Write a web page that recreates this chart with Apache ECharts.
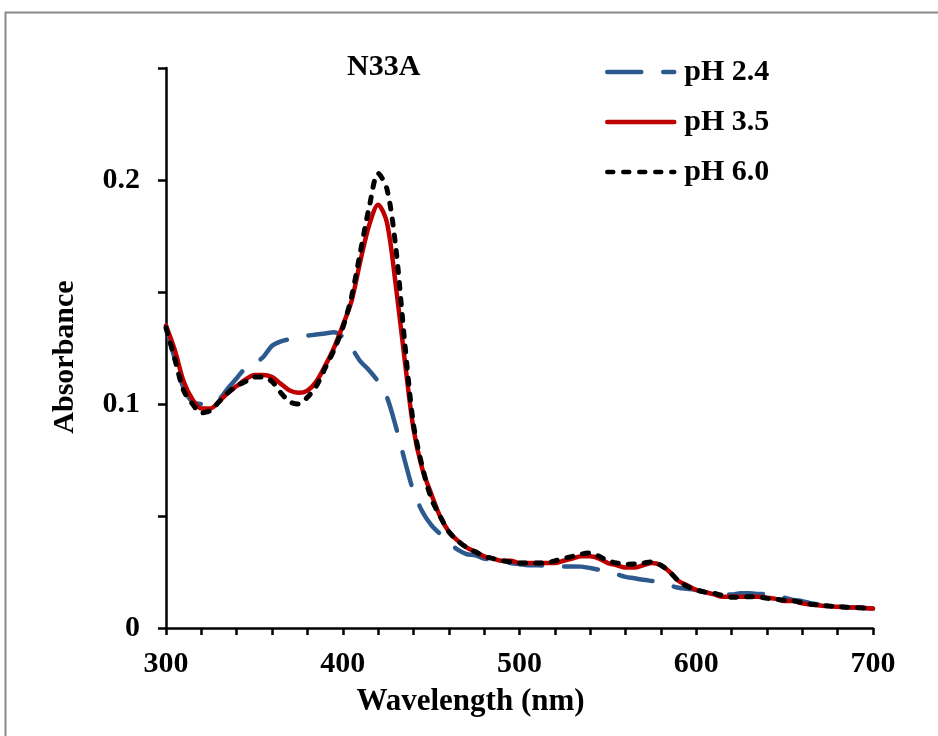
<!DOCTYPE html>
<html>
<head>
<meta charset="utf-8">
<script src="https://cdn.jsdelivr.net/npm/echarts@6/dist/echarts.min.js"></script>
<style>
  html, body { margin: 0; padding: 0; background: #fff; }
  #chart { width: 938px; height: 736px; }
</style>
</head>
<body>
<div id="chart"></div>
<script>
// Wavelength (nm), 5 nm steps
const wavelengths = [];
for (let w = 300; w <= 700; w += 5) wavelengths.push(w);

const seriesNames = ['pH 2.4', 'pH 3.5', 'pH 6.0'];

const absPH24 = [
  0.135, 0.120, 0.107, 0.101, 0.100, 0.100, 0.102, 0.107, 0.1115, 0.116,
  0.118, 0.121, 0.126, 0.128, 0.129, 0.130, 0.1305, 0.131, 0.1315, 0.132,
  0.130, 0.125, 0.119, 0.115, 0.110, 0.103, 0.090, 0.075, 0.061, 0.052,
  0.046, 0.042, 0.038, 0.035, 0.033, 0.0325, 0.031, 0.0305, 0.030, 0.029,
  0.0285, 0.028, 0.028, 0.0278, 0.0275, 0.0275, 0.0275, 0.0274, 0.0268, 0.026,
  0.0252, 0.024, 0.0228, 0.0222, 0.0215, 0.021, 0.0205, 0.019, 0.018, 0.0175,
  0.017, 0.016, 0.0155, 0.015, 0.015, 0.0155, 0.0155, 0.0152, 0.015, 0.014,
  0.0135, 0.0125, 0.012, 0.011, 0.0105, 0.010, 0.0096, 0.0093, 0.0091, 0.0089,
  0.0087
];

const absPH35 = [
  0.135, 0.124, 0.110, 0.102, 0.098, 0.098, 0.101, 0.105, 0.108, 0.111,
  0.113, 0.113, 0.112, 0.109, 0.106, 0.105, 0.106, 0.110, 0.117, 0.125,
  0.135, 0.146, 0.164, 0.180, 0.189, 0.181, 0.153, 0.120, 0.089, 0.071,
  0.060, 0.050, 0.043, 0.039, 0.036, 0.034, 0.032, 0.031, 0.030, 0.030,
  0.029, 0.029, 0.029, 0.029, 0.029, 0.030, 0.031, 0.032, 0.032, 0.031,
  0.029, 0.028, 0.027, 0.027, 0.028, 0.029, 0.028, 0.025, 0.021, 0.019,
  0.017, 0.016, 0.015, 0.014, 0.014, 0.014, 0.014, 0.014, 0.0135, 0.013,
  0.012, 0.012, 0.011, 0.0105, 0.010, 0.0098, 0.0095, 0.0093, 0.0091, 0.0089,
  0.0087
];

const absPH60 = [
  0.134, 0.120, 0.106, 0.100, 0.096, 0.097, 0.101, 0.105, 0.108, 0.110,
  0.112, 0.112, 0.110, 0.105, 0.101, 0.100, 0.103, 0.108, 0.116, 0.124,
  0.134, 0.148, 0.168, 0.188, 0.203, 0.196, 0.170, 0.128, 0.091, 0.072,
  0.058, 0.050, 0.043, 0.039, 0.036, 0.034, 0.032, 0.031, 0.030, 0.0295,
  0.029, 0.029, 0.029, 0.029, 0.030, 0.031, 0.032, 0.033, 0.0335, 0.032,
  0.030, 0.029, 0.0285, 0.0286, 0.029, 0.0295, 0.028, 0.025, 0.021, 0.0185,
  0.017, 0.016, 0.0155, 0.0145, 0.0137, 0.0138, 0.014, 0.0138, 0.0133, 0.0128,
  0.0124, 0.0121, 0.0113, 0.0106, 0.0102, 0.0098, 0.0095, 0.0093, 0.0091, 0.0089,
  0.0088
];

const xTickLabels = ['300', '400', '500', '600', '700'];
const yTickLabels = ['0', '0.1', '0.2'];

const FONT = "'Liberation Serif', 'Times New Roman', serif";

function pairs(vals) { return wavelengths.map((w, i) => [w, vals[i]]); }

const chart = echarts.init(document.getElementById('chart'), null, { renderer: 'canvas' });

chart.setOption({
  animation: false,
  backgroundColor: '#ffffff',
  title: {
    text: 'N33A',
    left: 347, top: 52, padding: 0,
    textStyle: { fontFamily: FONT, fontWeight: 'bold', fontSize: 30, color: '#000' }
  },
  legend: {
    orient: 'vertical',
    left: 605, top: 57,
    itemWidth: 67, itemHeight: 30, itemGap: 20,
    padding: 0,
    data: seriesNames,
    itemStyle: { opacity: 0, borderWidth: 0 },
    lineStyle: { width: 4.5, cap: 'round' },
    textStyle: { fontFamily: FONT, fontWeight: 'bold', fontSize: 30, color: '#000', lineHeight: 30, padding: [0, 0, 0, 5] }
  },
  grid: { left: 166, right: 65, top: 68, bottom: 108, containLabel: false },
  xAxis: {
    type: 'value', min: 300, max: 700, interval: 20,
    name: 'Wavelength (nm)', nameLocation: 'middle', nameGap: 58,
    nameTextStyle: { fontFamily: FONT, fontWeight: 'bold', fontSize: 31, color: '#000', padding: [0, 98, 0, 0] },
    axisLine: { lineStyle: { color: '#000', width: 2.5 } },
    axisTick: { show: true, inside: false, length: 7, lineStyle: { color: '#000', width: 2.5 } },
    splitLine: { show: false },
    axisLabel: {
      margin: 21, color: '#000', fontFamily: FONT, fontWeight: 'bold', fontSize: 30,
      showMinLabel: true, showMaxLabel: true,
      formatter: v => { const s = String(Math.round(v)); return xTickLabels.includes(s) ? s : ''; }
    }
  },
  yAxis: {
    type: 'value', min: 0, max: 0.25, interval: 0.05,
    name: 'Absorbance', nameLocation: 'middle', nameRotate: 90, nameGap: 86,
    nameTextStyle: { fontFamily: FONT, fontWeight: 'bold', fontSize: 30, color: '#000', padding: [0, 18, 0, 0] },
    axisLine: { show: true, lineStyle: { color: '#000', width: 2.5 } },
    axisTick: { show: true, inside: false, length: 8, lineStyle: { color: '#000', width: 2.5 } },
    splitLine: { show: false },
    axisLabel: {
      margin: 26, color: '#000', fontFamily: FONT, fontWeight: 'bold', fontSize: 30,
      showMinLabel: true, showMaxLabel: true,
      formatter: v => {
        const r = Math.round(v * 100) / 100;
        const s = r === 0 ? '0' : r.toFixed(1);
        return (Math.abs(r * 10 - Math.round(r * 10)) < 1e-6 && yTickLabels.includes(s)) ? s : '';
      }
    }
  },
  graphic: [{
    type: 'rect', silent: true, z: -10,
    shape: { x: 5.5, y: 12.5, width: 1000, height: 1000 },
    style: { fill: null, stroke: '#8a8a8a', lineWidth: 2 }
  }],
  series: [
    {
      name: seriesNames[0], type: 'line', data: pairs(absPH24), smooth: 0.3,
      symbol: 'none', z: 2,
      lineStyle: { color: '#2C5A8E', width: 4.5, type: [34, 22], cap: 'round' },
      itemStyle: { color: '#2C5A8E' }
    },
    {
      name: seriesNames[1], type: 'line', data: pairs(absPH35), smooth: 0.3,
      symbol: 'none', z: 3,
      lineStyle: { color: '#C00000', width: 4.5, type: 'solid', cap: 'round' },
      itemStyle: { color: '#C00000' }
    },
    {
      name: seriesNames[2], type: 'line', data: pairs(absPH60), smooth: 0.3,
      symbol: 'none', z: 4,
      lineStyle: { color: '#000000', width: 5, type: [6, 10], cap: 'round' },
      itemStyle: { color: '#000000' }
    }
  ]
});
</script>
</body>
</html>
